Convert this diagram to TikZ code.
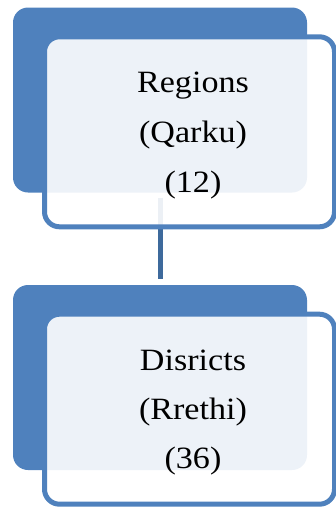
\documentclass[tikz,border=0pt]{standalone}
\usepackage{fontspec}
\setmainfont{Liberation Serif}[FakeStretch=1.1]
\definecolor{boxblue}{RGB}{79,129,189}
\definecolor{connblue}{RGB}{62,106,156}
\begin{document}
\begin{tikzpicture}[x=1pt,y=1pt,
  backbox/.style={rectangle, rounded corners=15pt, fill=boxblue, draw=none,
    minimum width=294pt, minimum height=185pt, inner sep=0pt},
  frontbox/.style={rectangle, rounded corners=15pt, draw=boxblue, line width=5pt,
    fill=white, fill opacity=0.9, draw opacity=1,
    minimum width=290pt, minimum height=190pt, inner sep=0pt},
  connector/.style={draw=connblue, line width=5pt},
  label/.style={anchor=base, inner sep=0pt, text=black}
]
\useasboundingbox (0,0) rectangle (336,-507);
\node[backbox] (back1) at (160,-100) {};
\node[backbox] (back2) at (160,-377.5) {};
\draw[connector, shorten <=5pt, shorten >=6pt] (back1.south) -- (back2.north);
\node[frontbox] (front1) at (189.5,-131.8) {};
\node[frontbox] (front2) at (189.5,-409.2) {};
\node[label] (t1) at (193,-92) {\parbox[t]{260pt}{\centering\fontsize{31}{50}\selectfont Regions\\(Qarku)\\(12)}};
\node[label] (t2) at (193,-370) {\parbox[t]{260pt}{\centering\fontsize{31}{49}\selectfont Disricts\\(Rrethi)\\(36)}};
\end{tikzpicture}
\end{document}
